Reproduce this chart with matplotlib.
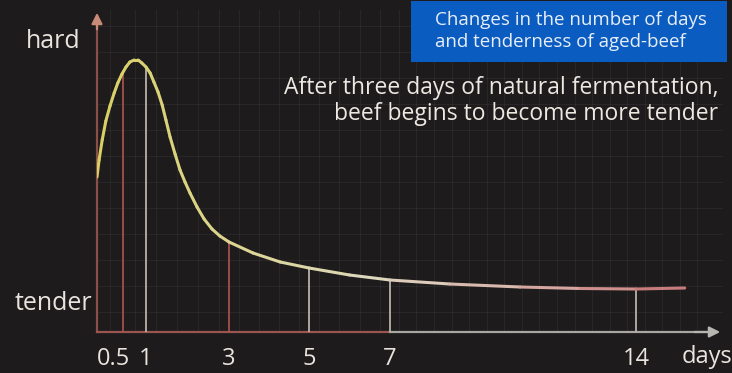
import numpy as np
import matplotlib
matplotlib.use("Agg")
import matplotlib.pyplot as plt
import matplotlib.transforms as mtransforms
from matplotlib.collections import LineCollection
from matplotlib.colors import LinearSegmentedColormap
from matplotlib.patches import Rectangle

plt.rcParams["font.family"] = ["Open Sans", "DejaVu Sans"]

# ------------------------------------------------------------
# Data: tenderness curve of aged beef (higher = harder)
# ------------------------------------------------------------
days = [0.0, 0.04, 0.10, 0.17, 0.25, 0.33, 0.40, 0.48, 0.565, 0.65, 0.74,
        0.83, 0.91, 1.0, 1.10, 1.19, 1.29, 1.39, 1.48, 1.58, 1.70, 1.82,
        1.94, 2.06, 2.23, 2.40, 2.59, 2.78, 3.0, 3.6, 4.28, 5.0, 6.0, 7.0,
        8.7, 10.7, 12.4, 14.0, 15.4]
hardness = [155, 172, 192, 211, 226, 239, 249, 258, 265, 270, 272,
            272, 269, 265, 259, 250, 240, 227, 212, 195, 178, 162,
            150, 139, 125, 113, 103, 96, 90, 79, 70, 64, 57, 52,
            48, 45, 43.5, 43, 44]

tick_days = [0.5, 1, 3, 5, 7, 14]
tick_labels = ["0.5", "1", "3", "5", "7", "14"]
drop_colors = ["#a8524c", "#bdb5ad", "#a8524c", "#bdb5ad", "#bdb5ad", "#bdb5ad"]

title_box = "Changes in the number of days\nand tenderness of aged-beef"
note = "After three days of natural fermentation,\nbeef begins to become more tender"

# ------------------------------------------------------------
# Day axis is stretched near the start (piecewise linear scale)
# ------------------------------------------------------------
knot_days = np.array([0, 0.5, 1, 3, 5, 7, 14, 16.5])
knot_pos = np.array([0, 26, 49, 132, 212, 293, 539, 626])


def fwd(x):
    return np.interp(x, knot_days, knot_pos, left=-1e3, right=1e3)


def inv(p):
    return np.interp(p, knot_pos, knot_days)


W, H = 732, 373
bg = "#1d1b1b"
txt = "#e8e4de"
fig = plt.figure(figsize=(W / 100, H / 100), dpi=100, facecolor=bg)

ax_l, ax_r, ax_b, ax_t = 97, 723, 332, 10
ax = fig.add_axes([ax_l / W, 1 - ax_b / H, (ax_r - ax_l) / W, (ax_b - ax_t) / H])
ax.set_facecolor(bg)
ax.set_xscale("function", functions=(fwd, inv))
ax.set_xlim(0, 16.5)
ax.set_ylim(0, 322)

for s in ax.spines.values():
    s.set_visible(False)

# faint screen grid
ax.set_yticks(np.arange(20, 322, 26), minor=True)
ax.set_xticks(np.arange(0.25, 16, 0.5), minor=True)
ax.grid(which="minor", color="#ffffff", alpha=0.05, lw=0.8)
ax.tick_params(which="minor", length=0)

# axes lines with arrow heads
ax.plot([0, 0], [0, 312], color="#8a5048", lw=1.6, clip_on=False)
ax.annotate("", xy=(0, 322), xytext=(0, 300),
            arrowprops=dict(arrowstyle="-|>", color="#c98a78", lw=1.6, mutation_scale=16),
            annotation_clip=False)
ax.plot([0, 7], [0, 0], color="#9a5650", lw=1.6, clip_on=False)
ax.plot([7, 16.0], [0, 0], color="#a8a6a2", lw=1.6, clip_on=False)
ax.annotate("", xy=(16.5, 0), xytext=(15.6, 0),
            arrowprops=dict(arrowstyle="-|>", color="#b8b6b0", lw=1.6, mutation_scale=16),
            annotation_clip=False)

# drop lines from the curve down to the day axis
tops = np.interp(tick_days, days, hardness)
for d, top, c in zip(tick_days, tops, drop_colors):
    ax.plot([d, d], [0, top], color=c, lw=1.4, alpha=0.9)

# curve with a yellow -> pale -> pink colour run
cmap = LinearSegmentedColormap.from_list(
    "beef", ["#d8d064", "#dcd592", "#ddd8c0", "#d8b0a8", "#c97c7e"])
xs = fwd(np.array(days))
pts = np.column_stack([days, hardness]).reshape(-1, 1, 2)
segs = np.concatenate([pts[:-1], pts[1:]], axis=1)
lc = LineCollection(segs, cmap=cmap, linewidth=2.2, capstyle="round", joinstyle="round")
lc.set_array((xs[:-1] + xs[1:]) / 2 / xs.max())
ax.add_collection(lc)

# x ticks
ax.set_xticks(tick_days)
ax.set_xticklabels(tick_labels)
ax.set_yticks([])
ax.tick_params(axis="x", length=0, pad=11, labelsize=17, labelcolor=txt)
# the two first labels sit close together, nudge "0.5" left
lab05 = ax.get_xticklabels()[0]
lab05.set_transform(lab05.get_transform() +
                    mtransforms.ScaledTranslation(-0.1, 0, fig.dpi_scale_trans))

fig.text(707 / W, 1 - 357 / H, "days", ha="center", va="center", fontsize=17, color=txt)

# y-axis words
fig.text(81 / W, 1 - 42 / H, "hard", ha="right", va="center", fontsize=18, color=txt)
fig.text(92 / W, 1 - 303 / H, "tender", ha="right", va="center", fontsize=18, color=txt)

# title box
fig.patches.append(Rectangle((411 / W, 1 - 62 / H), 316 / W, 61 / H,
                             transform=fig.transFigure, facecolor="#0b5cc0",
                             edgecolor="none", zorder=3))
fig.text(435 / W, 1 - 31 / H, title_box, ha="left", va="center", fontsize=13.5,
         color="#e8eef8", linespacing=1.25, zorder=4)

# note text
fig.text(718 / W, 1 - 101 / H, note, ha="right", va="center", fontsize=16.5,
         color="#ece8e2", linespacing=1.15)

fig.savefig("out.png", dpi=100, facecolor=bg)
